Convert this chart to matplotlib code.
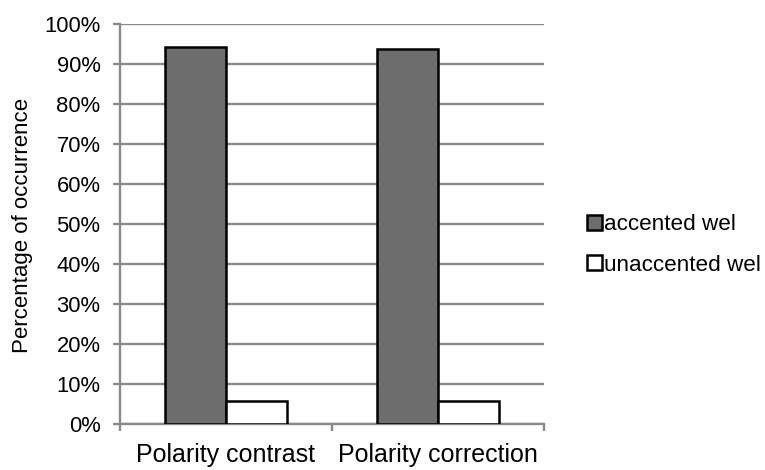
import matplotlib
matplotlib.use("Agg")
import matplotlib.pyplot as plt
import numpy as np
from matplotlib.ticker import PercentFormatter

plt.rcParams['font.family'] = ['Liberation Sans', 'DejaVu Sans']

categories = ["Polarity contrast", "Polarity correction"]
series_names = ["accented wel", "unaccented wel"]
accented = [94.3, 93.8]
unaccented = [5.7, 5.7]
y_ticks = list(range(0, 101, 10))

W, H = 765, 470
fig = plt.figure(figsize=(W / 100, H / 100), dpi=100)
ax = fig.add_axes([120 / W, 1 - 424 / H, 424 / W, 400 / H])

grid_color = "#8a8a8a"
x = np.arange(len(categories))
w = 0.29
ax.bar(x - w / 2, accented, w, color="#6d6d6d", edgecolor="black", linewidth=1.8,
       label=series_names[0], zorder=3)
ax.bar(x + w / 2, unaccented, w, color="white", edgecolor="black", linewidth=1.8,
       label=series_names[1], zorder=3)

ax.set_xlim(-0.5, len(categories) - 0.5)
ax.set_ylim(0, 100)
ax.set_yticks(y_ticks)
ax.yaxis.set_major_formatter(PercentFormatter(decimals=0))
ax.grid(axis="y", color=grid_color, linewidth=1.7, zorder=0)

ax.set_xticks(x)
ax.set_xticklabels(categories)
ax.set_xticks(np.arange(-0.5, len(categories)), minor=True)
ax.tick_params(axis="x", which="major", length=0, pad=14, labelsize=18)
ax.tick_params(axis="x", which="minor", length=5, width=1.7, color=grid_color)
ax.tick_params(axis="y", length=5, width=1.7, color=grid_color, labelsize=15.8, pad=9)

for side in ["top", "right"]:
    ax.spines[side].set_visible(False)
for side in ["left", "bottom"]:
    ax.spines[side].set_color(grid_color)
    ax.spines[side].set_linewidth(1.7)

fig.text(23 / W, 1 - 225.5 / H, "Percentage of occurrence", rotation=90,
         ha="center", va="center", fontsize=16)

fig.legend(loc="center left", bbox_to_anchor=(587 / W, 1 - 245 / H),
           frameon=False, fontsize=16.2, handlelength=0.65, handleheight=0.65,
           handletextpad=0.1, labelspacing=0.85, borderaxespad=0, borderpad=0)

fig.savefig("out.png", dpi=100)
